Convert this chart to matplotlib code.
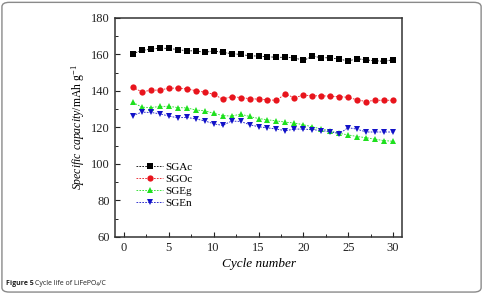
import numpy as np
import matplotlib
matplotlib.use("Agg")
import matplotlib.pyplot as plt
from matplotlib.patches import FancyBboxPatch
from matplotlib.ticker import MultipleLocator

cycles = np.arange(1, 31)
sgac = [160.5, 162.2, 162.9, 163.5, 163.3, 162.7, 162.0, 162.0, 161.1, 162.0,
        161.1, 160.5, 160.0, 159.3, 159.1, 158.7, 158.5, 158.4, 158.2, 156.7,
        159.0, 158.3, 158.1, 157.5, 156.4, 157.7, 157.0, 156.6, 156.2, 157.2]
sgoc = [142.0, 139.5, 140.4, 140.5, 141.5, 141.6, 141.1, 140.2, 139.3, 138.2,
        135.5, 136.9, 136.4, 135.8, 135.5, 135.1, 134.9, 138.4, 136.2, 137.8,
        137.3, 137.4, 137.1, 136.9, 136.5, 135.1, 134.2, 134.9, 134.9, 134.9]
sgeg = [133.8, 131.1, 130.9, 131.5, 131.6, 130.9, 130.7, 129.6, 129.1, 127.8,
        126.5, 126.2, 127.3, 126.0, 124.9, 124.2, 123.6, 122.9, 122.4, 121.5,
        120.3, 119.2, 118.0, 116.8, 115.9, 115.0, 114.4, 113.5, 112.8, 112.4]
sgen = [126.5, 128.4, 128.2, 127.5, 126.2, 125.3, 125.5, 124.7, 123.6, 122.0,
        121.1, 123.5, 123.3, 121.5, 120.4, 119.8, 119.1, 118.2, 119.1, 119.1,
        118.8, 118.3, 117.6, 116.6, 119.9, 119.0, 117.5, 117.5, 117.5, 117.5]

names = ["SGAc", "SGOc", "SGEg", "SGEn"]
colors = ["#000000", "#e8141c", "#1ee01e", "#1212c8"]
markers = ["s", "o", "^", "v"]

plt.rcParams['font.family'] = ['Liberation Serif', 'DejaVu Serif']
plt.rcParams['mathtext.fontset'] = 'custom'
plt.rcParams['mathtext.rm'] = 'Liberation Serif'
plt.rcParams['mathtext.it'] = 'Liberation Serif:italic'

fig = plt.figure(figsize=(4.85, 2.95), dpi=100)

# rounded frame around the whole figure
frame = FancyBboxPatch((0.004, 0.01), 0.988, 0.982,
                       boxstyle="round,pad=0,rounding_size=0.015",
                       transform=fig.transFigure, facecolor="none",
                       edgecolor="#8a8a8a", linewidth=1.0, zorder=0)
fig.patches.append(frame)

ax = fig.add_axes([0.237, 0.197, 0.592, 0.742])
ax.set_facecolor("none")

for vals, name, c, m in zip([sgac, sgoc, sgeg, sgen], names, colors, markers):
    ax.plot(cycles, vals, linestyle="--", dashes=(2, 1.5), color=c, linewidth=0.6,
            marker=m, markersize=4.5, markeredgewidth=0, label=name)

ax.set_xlim(-1, 31)
ax.set_ylim(60, 180)
ax.xaxis.set_major_locator(MultipleLocator(5))
ax.xaxis.set_minor_locator(MultipleLocator(2.5))
ax.yaxis.set_major_locator(MultipleLocator(20))
ax.yaxis.set_minor_locator(MultipleLocator(10))
ax.tick_params(which="both", direction="in", labelsize=9, colors="#222222")
ax.tick_params(which="major", length=3.5, width=0.8)
ax.tick_params(which="minor", length=2, width=0.7)
for s in ax.spines.values():
    s.set_linewidth(1.1)
    s.set_color("#333333")

ax.set_xlabel("Cycle number", fontsize=9.5, style="italic", labelpad=3)
ax.set_ylabel(r"$\it{Specific\ capacity}$/mAh g$^{-1}$", fontsize=8.5, labelpad=3)

ax.legend(loc="center left", bbox_to_anchor=(0.04, 0.235), frameon=False,
          fontsize=8, handlelength=2.4, handletextpad=0.2, labelspacing=0.2)

fig.text(0.012, 0.035, "Figure 5", fontsize=5, fontweight="bold",
         family=["Open Sans", "DejaVu Sans"], color="#222222")
fig.text(0.072, 0.035, "Cycle life of LiFePO\u2084/C", fontsize=5,
         family=["Open Sans", "DejaVu Sans"], color="#222222")

fig.savefig("out.png", dpi=100)
